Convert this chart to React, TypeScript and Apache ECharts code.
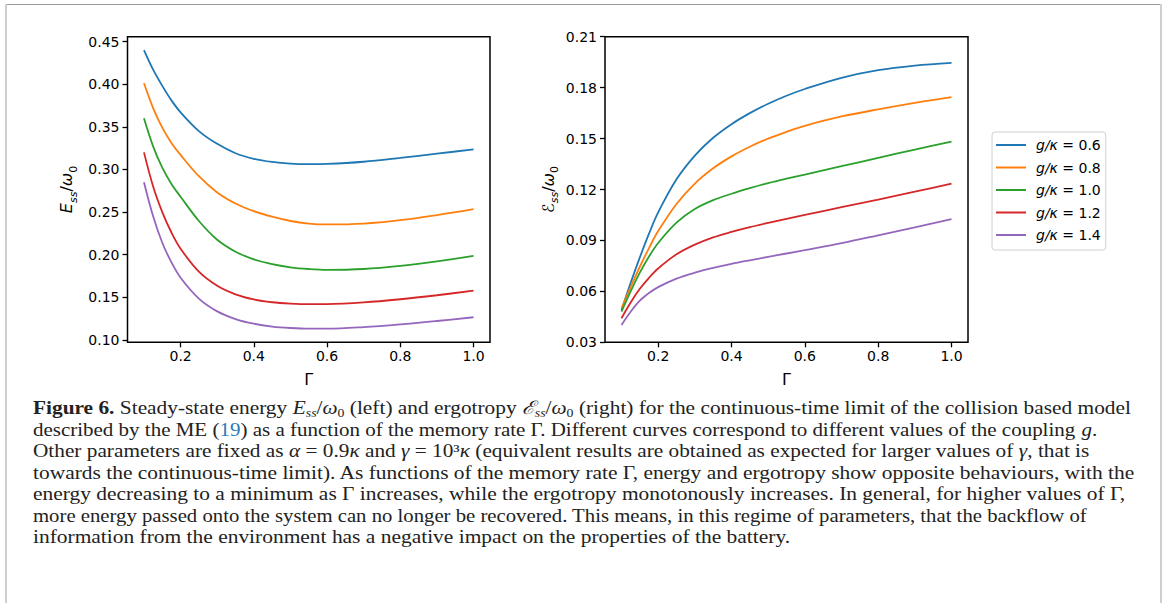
import React, { useEffect, useRef } from "react";
import * as echarts from "echarts";

// ---------- data ----------
const gammaValues = [0.1, 0.125, 0.15, 0.175, 0.2, 0.25, 0.3, 0.35, 0.4, 0.45, 0.5, 0.55, 0.6, 0.7, 0.8, 0.9, 1.0];
const couplingLabels = ["0.6", "0.8", "1.0", "1.2", "1.4"];
const seriesColors = ["#1f77b4", "#ff7f0e", "#2ca02c", "#d62728", "#9467bd"];

const energyG06 = [0.44, 0.417, 0.398, 0.381, 0.367, 0.345, 0.33, 0.319, 0.3125, 0.3088, 0.3068, 0.3062, 0.3065, 0.309, 0.3135, 0.3185, 0.3235];
const energyG08 = [0.401, 0.372, 0.349, 0.331, 0.317, 0.292, 0.273, 0.26, 0.251, 0.2445, 0.2395, 0.2365, 0.2355, 0.2365, 0.2405, 0.2465, 0.2535];
const energyG10 = [0.36, 0.327, 0.302, 0.283, 0.268, 0.2395, 0.2175, 0.2035, 0.1945, 0.1888, 0.1852, 0.1832, 0.1822, 0.1832, 0.1868, 0.1922, 0.1986];
const energyG12 = [0.32, 0.28, 0.25, 0.226, 0.207, 0.18, 0.1635, 0.1535, 0.1475, 0.1442, 0.1426, 0.1419, 0.142, 0.144, 0.1477, 0.1524, 0.1577];
const energyG14 = [0.285, 0.245, 0.214, 0.191, 0.173, 0.1485, 0.1335, 0.1245, 0.119, 0.1157, 0.114, 0.1132, 0.1132, 0.115, 0.1182, 0.1222, 0.1266];

const ergoG06 = [0.049, 0.065, 0.08, 0.094, 0.1065, 0.126, 0.14, 0.1505, 0.1585, 0.165, 0.1705, 0.1752, 0.1792, 0.1858, 0.1903, 0.193, 0.1946];
const ergoG08 = [0.05, 0.0625, 0.0745, 0.0855, 0.0955, 0.1115, 0.1235, 0.1325, 0.1395, 0.1452, 0.15, 0.154, 0.1575, 0.163, 0.1672, 0.171, 0.1744];
const ergoG10 = [0.0481, 0.06, 0.071, 0.0805, 0.0885, 0.1005, 0.1085, 0.1137, 0.1175, 0.1208, 0.1238, 0.1264, 0.1288, 0.1337, 0.1386, 0.1435, 0.1482];
const ergoG12 = [0.0442, 0.0535, 0.0615, 0.068, 0.0735, 0.0818, 0.0875, 0.0918, 0.095, 0.0978, 0.1003, 0.1027, 0.105, 0.1096, 0.1141, 0.1187, 0.1234];
const ergoG14 = [0.0402, 0.048, 0.0545, 0.059, 0.0625, 0.0675, 0.071, 0.0738, 0.0762, 0.0783, 0.0803, 0.0823, 0.0843, 0.0884, 0.093, 0.0977, 0.1026];

const energySeries = [energyG06, energyG08, energyG10, energyG12, energyG14];
const ergoSeries = [ergoG06, ergoG08, ergoG10, ergoG12, ergoG14];

const xTicks = [0.2, 0.4, 0.6, 0.8, 1.0];
const energyTicks = [0.1, 0.15, 0.2, 0.25, 0.3, 0.35, 0.4, 0.45];
const ergoTicks = [0.03, 0.06, 0.09, 0.12, 0.15, 0.18, 0.21];

const captionLines = [
  "{b|Figure 6.} Steady-state energy {i|E}{s|ss}/{i|ω}{z|0} (left) and ergotropy {i|ℰ}{s|ss}/{i|ω}{z|0} (right) for the continuous-time limit of the collision based model",
  "described by the ME ({l|19}) as a function of the memory rate Γ. Different curves correspond to different values of the coupling {i|g}.",
  "Other parameters are fixed as {i|α} = 0.9{i|κ} and {i|γ} = 10³{i|κ} (equivalent results are obtained as expected for larger values of {i|γ}, that is",
  "towards the continuous-time limit). As functions of the memory rate Γ, energy and ergotropy show opposite behaviours, with the",
  "energy decreasing to a minimum as Γ increases, while the ergotropy monotonously increases. In general, for higher values of Γ,",
  "more energy passed onto the system can no longer be recovered. This means, in this regime of parameters, that the backflow of",
  "information from the environment has a negative impact on the properties of the battery.",
];
// horizontal stretch of each caption line (the original typeface is wider than Times)
const captionStretch = [1.155, 1.135, 1.151, 1.159, 1.159, 1.121, 1.16];

// ---------- styling ----------
const SANS = "'DejaVu Sans', sans-serif";
const SERIF = "'Liberation Serif', 'DejaVu Serif', serif";
const CAP_SIZE = 18.5;
const CAP_LH = 22;
const CAP_COLOR = "#222";

const nameRich = {
  m: { fontStyle: "italic", fontSize: 16, lineHeight: 24, fontFamily: SANS, color: "#000" },
  r: { fontSize: 16, lineHeight: 24, fontFamily: SANS, color: "#000" },
  s: { fontStyle: "italic", fontSize: 11, lineHeight: 11, verticalAlign: "bottom", fontFamily: SANS, color: "#000" },
  z: { fontSize: 11, lineHeight: 11, verticalAlign: "bottom", fontFamily: SANS, color: "#000" },
};

const capRich = {
  b: { fontWeight: "bold", fontSize: CAP_SIZE, lineHeight: CAP_LH, fontFamily: SERIF, fill: CAP_COLOR, color: CAP_COLOR },
  i: { fontStyle: "italic", fontSize: CAP_SIZE, lineHeight: CAP_LH, fontFamily: SERIF, fill: CAP_COLOR, color: CAP_COLOR },
  s: { fontStyle: "italic", fontSize: 12, lineHeight: 12, verticalAlign: "bottom", fontFamily: SERIF, fill: CAP_COLOR, color: CAP_COLOR },
  z: { fontSize: 12, lineHeight: 12, verticalAlign: "bottom", fontFamily: SERIF, fill: CAP_COLOR, color: CAP_COLOR },
  l: { fontSize: CAP_SIZE, lineHeight: CAP_LH, fontFamily: SERIF, fill: "#2b7bb9", color: "#2b7bb9" },
};

function makeXAxis(gridIndex: number) {
  return {
    type: "value",
    gridIndex,
    min: 0.055,
    max: 1.045,
    name: "Γ",
    nameLocation: "middle",
    nameGap: 29,
    nameTextStyle: { fontFamily: SANS, fontSize: 16, color: "#000" },
    axisLine: { show: false },
    splitLine: { show: false },
    axisTick: { show: true, customValues: xTicks, length: 5, lineStyle: { color: "#000", width: 1.3 } },
    axisLabel: {
      customValues: xTicks,
      formatter: (v: number) => v.toFixed(1),
      fontFamily: SANS,
      fontSize: 14,
      color: "#000",
      margin: 7,
    },
  };
}

function makeYAxis(gridIndex: number, min: number, max: number, ticks: number[], name: string, gap: number) {
  return {
    type: "value",
    gridIndex,
    min,
    max,
    name,
    nameLocation: "middle",
    nameRotate: 90,
    nameGap: gap,
    nameTextStyle: { fontFamily: SANS, fontSize: 16, color: "#000", rich: nameRich },
    axisLine: { show: false },
    splitLine: { show: false },
    axisTick: { show: true, customValues: ticks, length: 5, lineStyle: { color: "#000", width: 1.3 } },
    axisLabel: {
      customValues: ticks,
      formatter: (v: number) => v.toFixed(2),
      fontFamily: SANS,
      fontSize: 14,
      color: "#000",
      margin: 8,
    },
  };
}

export default function App() {
  const ref = useRef<HTMLDivElement>(null);

  useEffect(() => {
    if (!ref.current) return;
    const chart = echarts.init(ref.current, undefined, { renderer: "svg" });

    const series: any[] = [];
    energySeries.forEach((vals, k) => {
      series.push({
        type: "line",
        name: couplingLabels[k],
        xAxisIndex: 0,
        yAxisIndex: 0,
        data: gammaValues.map((x, i) => [x, vals[i]]),
        showSymbol: false,
        smooth: 0.35,
        lineStyle: { width: 1.8, color: seriesColors[k] },
        itemStyle: { color: seriesColors[k] },
      });
    });
    ergoSeries.forEach((vals, k) => {
      series.push({
        type: "line",
        name: couplingLabels[k],
        xAxisIndex: 1,
        yAxisIndex: 1,
        data: gammaValues.map((x, i) => [x, vals[i]]),
        showSymbol: false,
        smooth: 0.35,
        lineStyle: { width: 1.8, color: seriesColors[k] },
        itemStyle: { color: seriesColors[k] },
      });
    });

    const graphics: any[] = [
      { type: "line", shape: { x1: 6, y1: 4.5, x2: 1161, y2: 4.5 }, style: { stroke: "#9a9a9a", lineWidth: 1 } },
      { type: "line", shape: { x1: 6, y1: 4, x2: 6, y2: 603 }, style: { stroke: "#cfcfcf", lineWidth: 2 } },
      { type: "line", shape: { x1: 1161, y1: 4, x2: 1161, y2: 603 }, style: { stroke: "#cfcfcf", lineWidth: 2 } },
    ];
    captionLines.forEach((line, i) => {
      graphics.push({
        type: "text",
        x: 33,
        y: 408 + i * 21.4,
        scaleX: captionStretch[i],
        style: {
          text: line,
          rich: capRich,
          fontFamily: SERIF,
          fontSize: CAP_SIZE,
          lineHeight: CAP_LH,
          fill: CAP_COLOR,
          verticalAlign: "middle",
          align: "left",
        },
      });
    });

    chart.setOption({
      animation: false,
      backgroundColor: "#fff",
      grid: [
        { left: 127.5, top: 36.7, width: 362.5, height: 305.6, show: true, borderColor: "#000", borderWidth: 1.5, backgroundColor: "transparent" },
        { left: 605, top: 36.7, width: 363, height: 305.6, show: true, borderColor: "#000", borderWidth: 1.5, backgroundColor: "transparent" },
      ],
      xAxis: [makeXAxis(0), makeXAxis(1)],
      yAxis: [
        makeYAxis(0, 0.0972, 0.4557, energyTicks, "{m|E}{s|ss}{r|/}{m|ω}{z|0}", 49),
        makeYAxis(1, 0.03, 0.21, ergoTicks, "{m|ℰ}{s|ss}{r|/}{m|ω}{z|0}", 45),
      ],
      legend: {
        show: true,
        data: couplingLabels,
        orient: "vertical",
        left: 992,
        top: 132,
        icon: "rect",
        itemWidth: 30,
        itemHeight: 2,
        itemGap: 6.5,
        itemStyle: { borderWidth: 0 },
        padding: [5, 5, 7, 4],
        borderColor: "#d0d0d0",
        borderWidth: 1,
        borderRadius: 3,
        backgroundColor: "rgba(255,255,255,0.8)",
        selectedMode: false,
        formatter: (name: string) => `{p|}{i|g/κ} = ${name}`,
        textStyle: {
          fontFamily: SANS,
          fontSize: 14,
          lineHeight: 16,
          color: "#000",
          rich: {
            p: { width: 5, fontSize: 14, lineHeight: 16 },
            i: { fontStyle: "italic", fontFamily: SANS, fontSize: 14, lineHeight: 16, color: "#000" },
          },
        },
      },
      graphic: graphics,
      series,
    });

    return () => chart.dispose();
  }, []);

  return (
    <div
      ref={ref}
      style={{ position: "absolute", left: 0, top: 0, width: 1165, height: 603, background: "#fff" }}
    />
  );
}
